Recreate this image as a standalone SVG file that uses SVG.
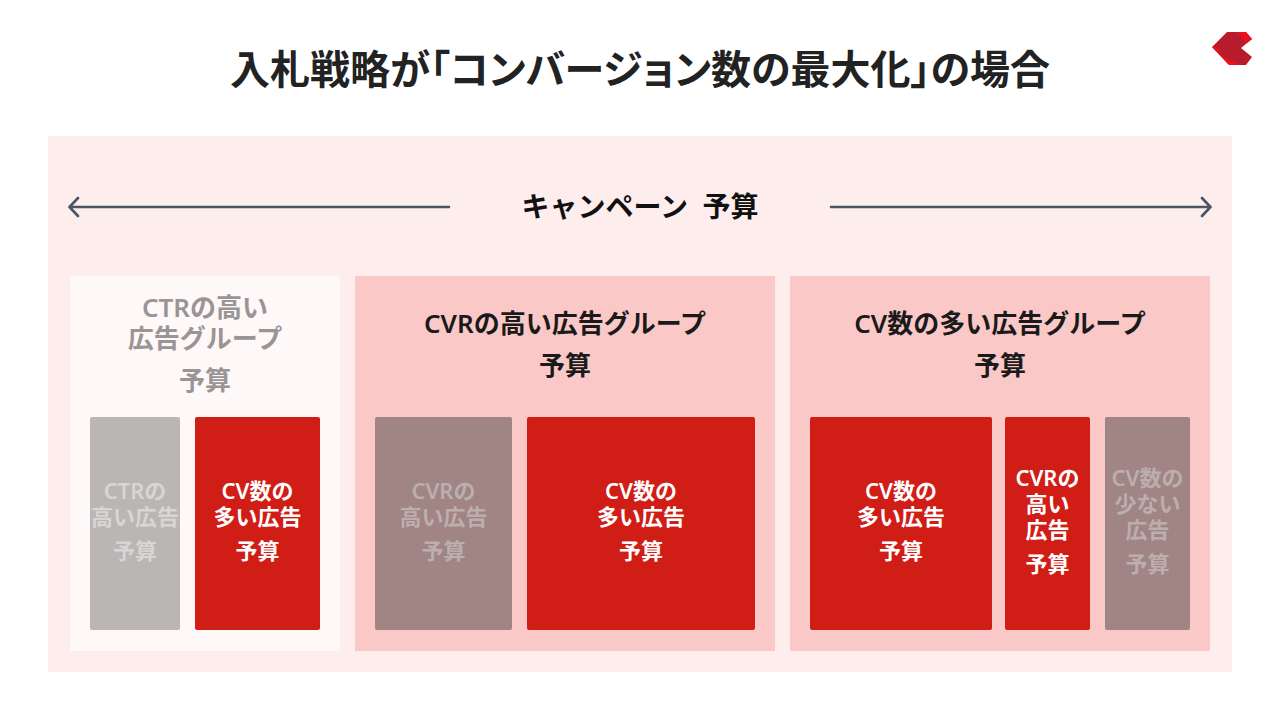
<svg xmlns="http://www.w3.org/2000/svg" width="1280" height="720" viewBox="0 0 1280 720">
<style>
text{font-family:"Noto Sans","Noto Sans CJK JP",sans-serif;font-weight:600;text-anchor:middle}
.title{font-size:40px;fill:#222;font-feature-settings:"palt"}
.c{font-size:28px;fill:#111;white-space:pre}
.t{font-size:26px;fill:#1a1a1a}
.g{font-size:26px;fill:#999594}
.w{font-size:22px;fill:#fff}
.f{font-size:22px;fill:#d8d5d4}
.f2{font-size:22px;fill:#bdaeae}
.arrow{fill:none;stroke:#4a5568;stroke-width:2.6;stroke-linecap:round;stroke-linejoin:round}
.red{fill:#d01e17}
</style>
<rect width="1280" height="720" fill="#fff"/>
<text class="title" x="640" y="84">入札戦略が「コンバージョン数の最大化」の場合</text>
<g id="logo">
<path d="M1212 47L1227 32H1246L1252 39L1241 48L1252 57L1246 65H1229Z" fill="#b81c2c"/>
<path d="M1212 47L1228 64L1232 65H1240L1222 56L1216 47Z" fill="#ee0f1c"/>
<path d="M1237 32H1246L1252 39L1247 43Z" fill="#ee0f1c"/>
</g>
<rect id="campaign" x="48" y="136" width="1184" height="536" fill="#fdeded"/>
<g id="connectors">
<path class="arrow" d="M449 207H70M78 198L69.500 207L78 216"/>
<path class="arrow" d="M831 207H1210M1202 198L1210.500 207L1202 216"/>
</g>
<text class="c" x="640" y="217">キャンペーン  予算</text>
<g id="group-ctr">
<rect x="70" y="276" width="270" height="375" fill="#fef8f8"/>
<text class="g" x="205" y="317">CTRの高い<tspan x="205" dy="31">広告グループ</tspan><tspan x="205" dy="42">予算</tspan></text>
</g>
<g id="ctr-a"><rect x="90" y="417" width="90" height="213" rx="2" fill="#bab6b5"/>
<text class="f" x="135" y="499">CTRの<tspan x="135" dy="26">高い広告</tspan><tspan x="135" dy="34">予算</tspan></text></g>
<g id="ctr-b"><rect class="red" x="195" y="417" width="125" height="213" rx="2"/>
<text class="w" x="257.500" y="499">CV数の<tspan x="257.500" dy="26">多い広告</tspan><tspan x="257.500" dy="34">予算</tspan></text></g>
<g id="group-cvr">
<rect x="355" y="276" width="420" height="375" fill="#fac8c6"/>
<text class="t" x="565" y="333">CVRの高い広告グループ<tspan x="565" dy="42">予算</tspan></text>
</g>
<g id="cvr-a"><rect x="375" y="417" width="137" height="213" rx="2" fill="#a08584"/>
<text class="f2" x="443.500" y="499">CVRの<tspan x="443.500" dy="26">高い広告</tspan><tspan x="443.500" dy="34">予算</tspan></text></g>
<g id="cvr-b"><rect class="red" x="527" y="417" width="228" height="213" rx="2"/>
<text class="w" x="641" y="499">CV数の<tspan x="641" dy="26">多い広告</tspan><tspan x="641" dy="34">予算</tspan></text></g>
<g id="group-cv">
<rect x="790" y="276" width="420" height="375" fill="#fac8c6"/>
<text class="t" x="1000" y="333">CV数の多い広告グループ<tspan x="1000" dy="42">予算</tspan></text>
</g>
<g id="cv-a"><rect class="red" x="810" y="417" width="182" height="213" rx="2"/>
<text class="w" x="901" y="499">CV数の<tspan x="901" dy="26">多い広告</tspan><tspan x="901" dy="34">予算</tspan></text></g>
<g id="cv-b"><rect class="red" x="1005" y="417" width="85" height="213" rx="2"/>
<text class="w" x="1047.500" y="486">CVRの<tspan x="1047.500" dy="26">高い</tspan><tspan x="1047.500" dy="26">広告</tspan><tspan x="1047.500" dy="34">予算</tspan></text></g>
<g id="cv-c"><rect x="1105" y="417" width="85" height="213" rx="2" fill="#a08584"/>
<text class="f2" x="1147.500" y="486">CV数の<tspan x="1147.500" dy="26">少ない</tspan><tspan x="1147.500" dy="26">広告</tspan><tspan x="1147.500" dy="34">予算</tspan></text></g>
</svg>
